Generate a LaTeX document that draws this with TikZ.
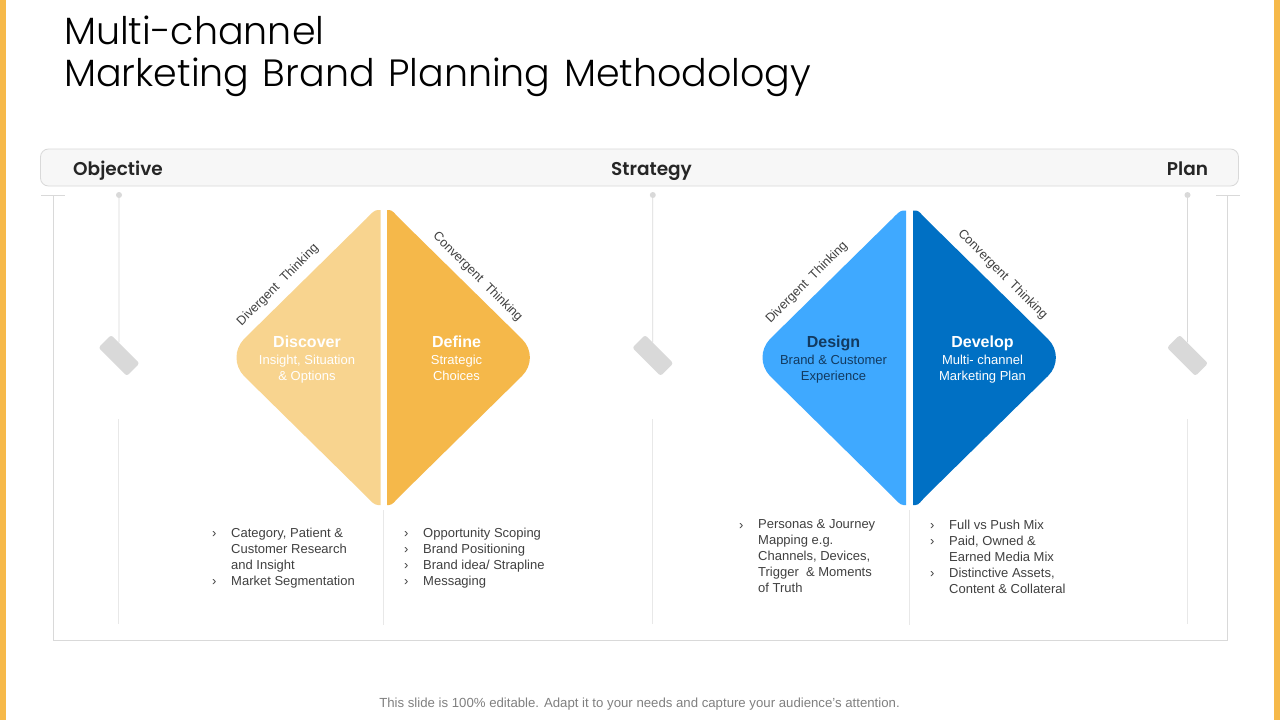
\documentclass[tikz,border=0pt]{standalone}
\usepackage{fontspec}
\setmainfont{Liberation Sans}
\newfontfamily\headfont{Poppins SemiBold}
\newfontfamily\titlefont{Poppins Light}[WordSpace=1.3]
\definecolor{frameedge}{HTML}{D9D9D9}
\definecolor{barfill}{HTML}{F7F7F7}
\definecolor{sidebar}{HTML}{F6B94A}
\definecolor{discover}{HTML}{F8D48F}
\definecolor{define}{HTML}{F5B84A}
\definecolor{design}{HTML}{3FA9FF}
\definecolor{develop}{HTML}{0070C4}
\definecolor{designtext}{HTML}{123A60}
\definecolor{bodytext}{HTML}{404040}
\definecolor{pend}{HTML}{D9D9D9}
\newcommand{\bigf}{\fontsize{16}{16}\selectfont\bfseries\rule{0pt}{12pt}}
\newcommand{\smallf}{\fontsize{13}{16}\selectfont\mdseries}
\tikzset{
 x=1pt,y=-1pt,
 frameline/.style={draw=frameedge,line width=.8pt},
 faintline/.style={draw=frameedge!60,line width=.7pt},
 headlabel/.style={font=\headfont\fontsize{18.5}{23}\selectfont,text=black!85,inner sep=0,anchor=base},
 diag/.style={font=\fontsize{12.7}{15}\selectfont,text=bodytext,inner sep=0},
 heading/.style={align=center,inner sep=0,anchor=north,font=\fontsize{13}{16}\selectfont},
 bullets/.style={align=left,inner sep=0,anchor=north west,text=bodytext,font=\fontsize{13}{16}\selectfont},
 tag/.style={fill=pend,rounded corners=2.5pt,minimum width=40pt,minimum height=18pt,rotate=-45,inner sep=0},
 dotend/.style={circle,fill=pend,minimum size=6pt,inner sep=0},
}
\begin{document}
\begin{tikzpicture}
\useasboundingbox (0,0) rectangle (1280,720);
\fill[white] (0,0) rectangle (1280,720);
\fill[sidebar] (0,0) rectangle (6,720);
\fill[sidebar] (1274,0) rectangle (1280,720);
\node[anchor=north west,inner sep=0,align=left,font=\titlefont\fontsize{38}{42}\selectfont,text=black] (title) at (64,15.5) {Multi-channel\\Marketing Brand Planning Methodology};
% header bar
\node[draw=frameedge,fill=barfill,rounded corners=8pt,line width=.8pt,minimum width=1198pt,minimum height=37pt,inner sep=0] (bar) at (639.5,167.5) {};
\node[headlabel] (obj) at (118,175.5) {Objective};
\node[headlabel] (str) at (651.5,175.5) {Strategy};
\node[headlabel] (pln) at (1187.5,175.5) {Plan};
% frame
\coordinate (fl) at (53.5,195.5);\coordinate (fr) at (1227.5,195.5);
\coordinate (bl) at (53.5,640.5);\coordinate (br) at (1227.5,640.5);
\draw[frameline] (fl) -- (bl) -- (br) -- (fr);
\draw[frameline] (41,195.5) -- (65,195.5);
\draw[frameline] (1216,195.5) -- (1240,195.5);
% pendulums
\foreach \nm/\x/\bot in {a/119/624,b/652.8/624,c/1187.5/624}{
 \node[dotend] (\nm top) at (\x,195) {};
 \node[tag] (\nm tag) at (\x,355.5) {};
 \draw[frameline] (\nm top) -- (\nm tag);
 \coordinate (\nm s) at (\x-0.5,419);\coordinate (\nm e) at (\x-0.5,\bot);
 \draw[faintline] (\nm s) -- (\nm e);
}
\draw[faintline] (383.5,510) -- (383.5,625);
\draw[faintline] (909.5,510) -- (909.5,625);
% diamonds
\fill[discover] (380.7,210) -- (380.7,505) -- (378,505) .. controls (374,505) and (371.5,501.5) .. (366,496) -- (244,376) .. controls (234,365.5) and (234,349.5) .. (244,339) -- (366,219) .. controls (371.5,213.5) and (374,210) .. (378,210) -- cycle;
\fill[define] (387,210) -- (387,505) -- (389,505) .. controls (392.5,505) and (394.5,501.5) .. (400,496) -- (522,376) .. controls (532.5,365.5) and (532.5,349.5) .. (522,339) -- (400,219) .. controls (394.5,213.5) and (392.5,210) .. (389,210) -- cycle;
\fill[design] (906,210.5) -- (906,505) -- (903.5,505) .. controls (900,505) and (897.5,501.5) .. (892,496) -- (770,376) .. controls (760,365.5) and (760,349.5) .. (770,339) -- (892,219) .. controls (897.5,213.5) and (900,210.5) .. (903.5,210.5) -- cycle;
\fill[develop] (913,210.5) -- (913,505) -- (915.5,505) .. controls (919,505) and (920.5,501.5) .. (926,496) -- (1048,376) .. controls (1058.5,365.5) and (1058.5,349.5) .. (1048,339) -- (926,219) .. controls (920.5,213.5) and (919,210.5) .. (915.5,210.5) -- cycle;
% diagonal labels
\node[diag,rotate=45] (dv1) at (278,285) {Divergent \ Thinking};
\node[diag,rotate=-45] (cv1) at (477.5,277) {Convergent \ Thinking};
\node[diag,rotate=45] (dv2) at (807,282.5) {Divergent \ Thinking};
\node[diag,rotate=-45] (cv2) at (1002.5,274.5) {Convergent \ Thinking};
% centre texts
\node[heading,text=white] (t1) at (307,335) {\bigf Discover\\[1.5pt]\smallf Insight, Situation\\\smallf \& Options};
\node[heading,text=white] (t2) at (456.5,335) {\bigf Define\\[1.5pt]\smallf Strategic\\\smallf Choices};
\node[heading,text=designtext] (t3) at (833.5,335) {\bigf Design\\[1.5pt]\smallf Brand \& Customer\\\smallf Experience};
\node[heading,text=white] (t4) at (982.5,335) {\bigf Develop\\[1.5pt]\smallf Multi- channel\\\smallf Marketing Plan};
% lists
\node[bullets] (c1) at (212,531) {›\\\hphantom{›}\\\hphantom{›}\\›};
\node[bullets] (l1) at (231,527.5) {Category, Patient \&\\Customer Research\\and Insight\\Market Segmentation};
\node[bullets] (c2) at (404,531) {›\\›\\›\\›};
\node[bullets] (l2) at (423,527.5) {Opportunity Scoping\\Brand Positioning\\Brand idea/ Strapline\\Messaging};
\node[bullets] (c3) at (739,523) {›};
\node[bullets] (l3) at (758,519.5) {Personas \& Journey\\Mapping e.g.\\Channels, Devices,\\Trigger \ \& Moments\\of Truth};
\node[bullets] (c4) at (930,523) {›\\›\\\hphantom{›}\\›};
\node[bullets] (l4) at (949,519.5) {Full vs Push Mix\\Paid, Owned \&\\Earned Media Mix\\Distinctive Assets,\\Content \& Collateral};
\node[inner sep=0,text=black!50,font=\fontsize{13.2}{15}\selectfont] (foot) at (639.5,704) {This slide is 100\% editable. Adapt it to your needs and capture your audience's attention.};
\end{tikzpicture}
\end{document}
